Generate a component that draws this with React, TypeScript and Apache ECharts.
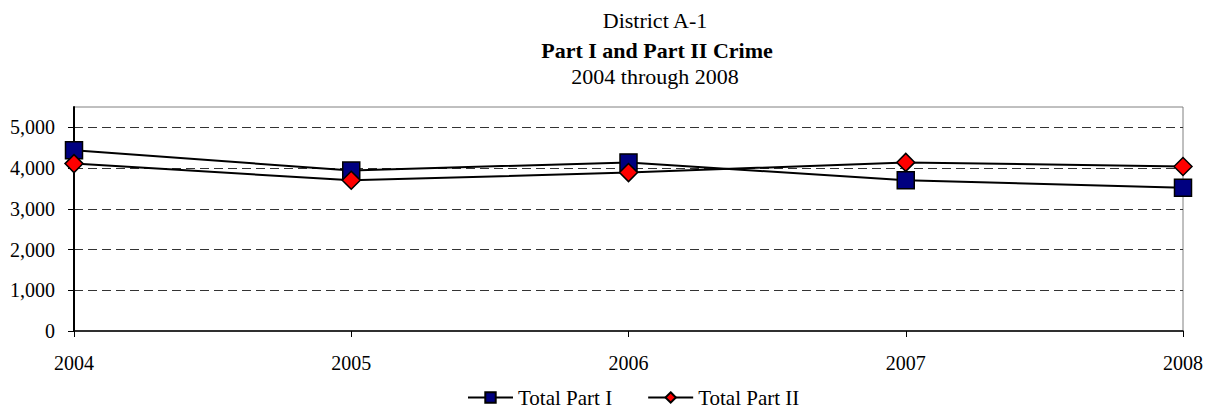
import React, { useEffect, useRef } from "react";
import * as echarts from "echarts";

const years = ["2004", "2005", "2006", "2007", "2008"];
const totalPartI = [4440, 3940, 4140, 3700, 3520];
const totalPartII = [4110, 3700, 3890, 4140, 4040];
const titleLines = ["District A-1", "Part I and Part II Crime", "2004 through 2008"];

const FONT = "'Liberation Serif', 'Times New Roman', serif";

export default function App() {
  const ref = useRef<HTMLDivElement>(null);
  useEffect(() => {
    if (!ref.current) return;
    const chart = echarts.init(ref.current, undefined, { renderer: "svg" });
    const tStyle = (bold: boolean) => ({
      fontFamily: FONT,
      fontSize: 22,
      fontWeight: bold ? "bold" : "normal",
      color: "#000",
    });
    chart.setOption({
      animation: false,
      textStyle: { fontFamily: FONT, color: "#000" },
      title: [
        { text: titleLines[0], left: 655, top: 9, textAlign: "center", padding: 0, textStyle: tStyle(false) },
        { text: titleLines[1], left: 657, top: 39, textAlign: "center", padding: 0, textStyle: tStyle(true) },
        { text: titleLines[2], left: 655, top: 65, textAlign: "center", padding: 0, textStyle: tStyle(false) },
      ],
      legend: {
        top: 387,
        left: 467,
        padding: 0,
        itemWidth: 45,
        itemHeight: 13,
        itemGap: 35,
        textStyle: { fontFamily: FONT, fontSize: 21, color: "#000" },
        data: [{ name: "Total Part I" }, { name: "Total Part II" }],
      },
      grid: {
        left: 74,
        right: 27,
        top: 107,
        bottom: 77,
        show: true,
        borderColor: "#808080",
        borderWidth: 1,
      },
      xAxis: {
        type: "category",
        data: years,
        boundaryGap: false,
        axisLine: { lineStyle: { color: "#000", width: 1.5 } },
        axisTick: { show: true, length: 6, lineStyle: { color: "#000" } },
        axisLabel: { fontFamily: FONT, fontSize: 20, color: "#000", margin: 22 },
        splitLine: { show: false },
      },
      yAxis: {
        type: "value",
        min: 0,
        max: 5500,
        interval: 1000,
        axisLine: { show: true, lineStyle: { color: "#000", width: 2 } },
        axisTick: { show: true, length: 6, lineStyle: { color: "#000" } },
        axisLabel: {
          fontFamily: FONT,
          fontSize: 20,
          color: "#000",
          margin: 19,
          showMaxLabel: false,
          formatter: (v: number) => (v > 5000 ? "" : v.toLocaleString("en-US")),
        },
        splitLine: {
          show: true,
          showMinLine: false,
          showMaxLine: false,
          lineStyle: { color: "#333", type: [9, 5], width: 1 },
        },
      },
      series: [
        {
          name: "Total Part I",
          type: "line",
          data: totalPartI,
          symbol: "rect",
          symbolSize: 17,
          lineStyle: { color: "#000", width: 2 },
          itemStyle: { color: "#000080", borderColor: "#000", borderWidth: 1.5 },
          z: 3,
        },
        {
          name: "Total Part II",
          type: "line",
          data: totalPartII,
          symbol: "diamond",
          symbolSize: 18,
          lineStyle: { color: "#000", width: 2 },
          itemStyle: { color: "#FF0000", borderColor: "#000", borderWidth: 1.5 },
          z: 4,
        },
      ],
    });
    return () => chart.dispose();
  }, []);
  return <div ref={ref} style={{ width: 1210, height: 408, position: "absolute", left: 0, top: 0 }} />;
}
